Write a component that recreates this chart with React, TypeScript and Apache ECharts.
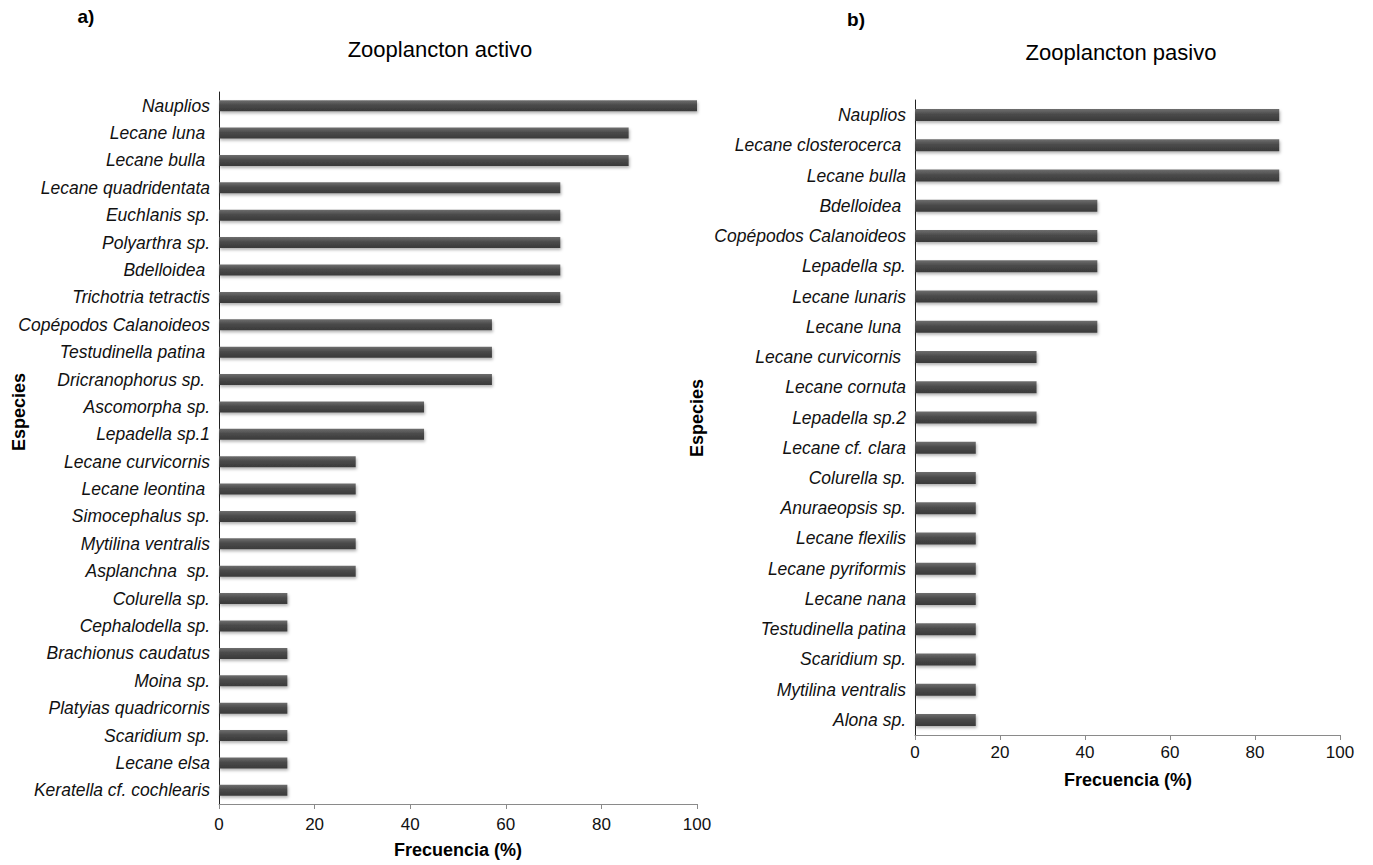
import React, { useEffect, useRef } from "react";
import * as echarts from "echarts";

const activeSpecies = [
  "Nauplios", "Lecane luna ", "Lecane bulla ", "Lecane quadridentata", "Euchlanis sp.",
  "Polyarthra sp.", "Bdelloidea ", "Trichotria tetractis", "Copépodos Calanoideos",
  "Testudinella patina ", "Dricranophorus sp. ", "Ascomorpha sp.", "Lepadella sp.1",
  "Lecane curvicornis", "Lecane leontina ", "Simocephalus sp.", "Mytilina ventralis",
  "Asplanchna  sp.", "Colurella sp.", "Cephalodella sp.", "Brachionus caudatus",
  "Moina sp.", "Platyias quadricornis", "Scaridium sp.", "Lecane elsa", "Keratella cf. cochlearis",
];
const activeValues = [
  100, 85.7, 85.7, 71.4, 71.4, 71.4, 71.4, 71.4, 57.1, 57.1, 57.1, 42.9, 42.9,
  28.6, 28.6, 28.6, 28.6, 28.6, 14.3, 14.3, 14.3, 14.3, 14.3, 14.3, 14.3, 14.3,
];

const passiveSpecies = [
  "Nauplios", "Lecane closterocerca ", "Lecane bulla", "Bdelloidea ", "Copépodos Calanoideos",
  "Lepadella sp.", "Lecane lunaris", "Lecane luna ", "Lecane curvicornis ", "Lecane cornuta",
  "Lepadella sp.2", "Lecane cf. clara", "Colurella sp.", "Anuraeopsis sp.", "Lecane flexilis",
  "Lecane pyriformis", "Lecane nana", "Testudinella patina", "Scaridium sp.",
  "Mytilina ventralis", "Alona sp.",
];
const passiveValues = [
  85.7, 85.7, 85.7, 42.9, 42.9, 42.9, 42.9, 42.9, 28.6, 28.6, 28.6, 14.3, 14.3,
  14.3, 14.3, 14.3, 14.3, 14.3, 14.3, 14.3, 14.3,
];

const xTicks = [0, 20, 40, 60, 80, 100];

const FONT = "'Liberation Sans', Arial, sans-serif";

const barStyle = {
  color: new echarts.graphic.LinearGradient(0, 0, 0, 1, [
    { offset: 0, color: "#6e6e6e" },
    { offset: 0.45, color: "#4a4a4a" },
    { offset: 1, color: "#3a3a3a" },
  ]),
  shadowBlur: 3,
  shadowOffsetX: 1,
  shadowOffsetY: 2,
  shadowColor: "rgba(0,0,0,0.3)",
};

export default function App() {
  const ref = useRef<HTMLDivElement>(null);
  useEffect(() => {
    if (!ref.current) return;
    const chart = echarts.init(ref.current, null, { renderer: "svg" });
    const xAxisBase = (gridIndex: number, margin: number) => ({
      type: "value",
      gridIndex,
      min: xTicks[0],
      max: xTicks[xTicks.length - 1],
      interval: 20,
      splitLine: { show: false },
      axisLine: { show: true, lineStyle: { color: "#8a8a8a", width: 1 } },
      axisTick: { show: true, length: 5, lineStyle: { color: "#8a8a8a" } },
      axisLabel: { color: "#111", fontSize: 17, fontFamily: FONT, margin },
    });
    const yAxisBase = (gridIndex: number, data: string[]) => ({
      type: "category",
      gridIndex,
      data,
      inverse: true,
      axisLine: { show: true, lineStyle: { color: "#222", width: 1 } },
      axisTick: { show: false },
      axisLabel: {
        color: "#111",
        fontSize: 17.5,
        fontStyle: "italic",
        fontFamily: FONT,
        margin: 9,
        interval: 0,
      },
    });
    chart.setOption({
      animation: false,
      backgroundColor: "#fff",
      grid: [
        { left: 219, width: 478, top: 92, height: 712 },
        { left: 915, width: 425, top: 100, height: 635 },
      ],
      xAxis: [xAxisBase(0, 12), xAxisBase(1, 9)],
      yAxis: [yAxisBase(0, activeSpecies), yAxisBase(1, passiveSpecies)],
      series: [
        {
          type: "bar",
          xAxisIndex: 0,
          yAxisIndex: 0,
          data: activeValues,
          barWidth: 11,
          itemStyle: barStyle,
        },
        {
          type: "bar",
          xAxisIndex: 1,
          yAxisIndex: 1,
          data: passiveValues,
          barWidth: 12,
          itemStyle: barStyle,
        },
      ],
      graphic: [
        { type: "text", x: 86, y: 16, style: { text: "a)", font: `bold 19px ${FONT}`, fill: "#000", align: "center", verticalAlign: "middle" } },
        { type: "text", x: 856, y: 19, style: { text: "b)", font: `bold 19px ${FONT}`, fill: "#000", align: "center", verticalAlign: "middle" } },
        { type: "text", x: 440, y: 49, style: { text: "Zooplancton activo", font: `22px ${FONT}`, fill: "#000", align: "center", verticalAlign: "middle" } },
        { type: "text", x: 1121, y: 52, style: { text: "Zooplancton pasivo", font: `22px ${FONT}`, fill: "#000", align: "center", verticalAlign: "middle" } },
        { type: "text", x: 458, y: 850, style: { text: "Frecuencia (%)", font: `bold 18px ${FONT}`, fill: "#000", align: "center", verticalAlign: "middle" } },
        { type: "text", x: 1128, y: 780, style: { text: "Frecuencia (%)", font: `bold 18px ${FONT}`, fill: "#000", align: "center", verticalAlign: "middle" } },
        { type: "text", x: 19, y: 412, rotation: Math.PI / 2, style: { text: "Especies", font: `bold 18px ${FONT}`, fill: "#000", align: "center", verticalAlign: "middle" } },
        { type: "text", x: 697, y: 418, rotation: Math.PI / 2, style: { text: "Especies", font: `bold 18px ${FONT}`, fill: "#000", align: "center", verticalAlign: "middle" } },
      ],
    });
    return () => chart.dispose();
  }, []);
  return (
    <div
      ref={ref}
      style={{ position: "fixed", left: 0, top: 0, width: 1373, height: 865 }}
    />
  );
}
